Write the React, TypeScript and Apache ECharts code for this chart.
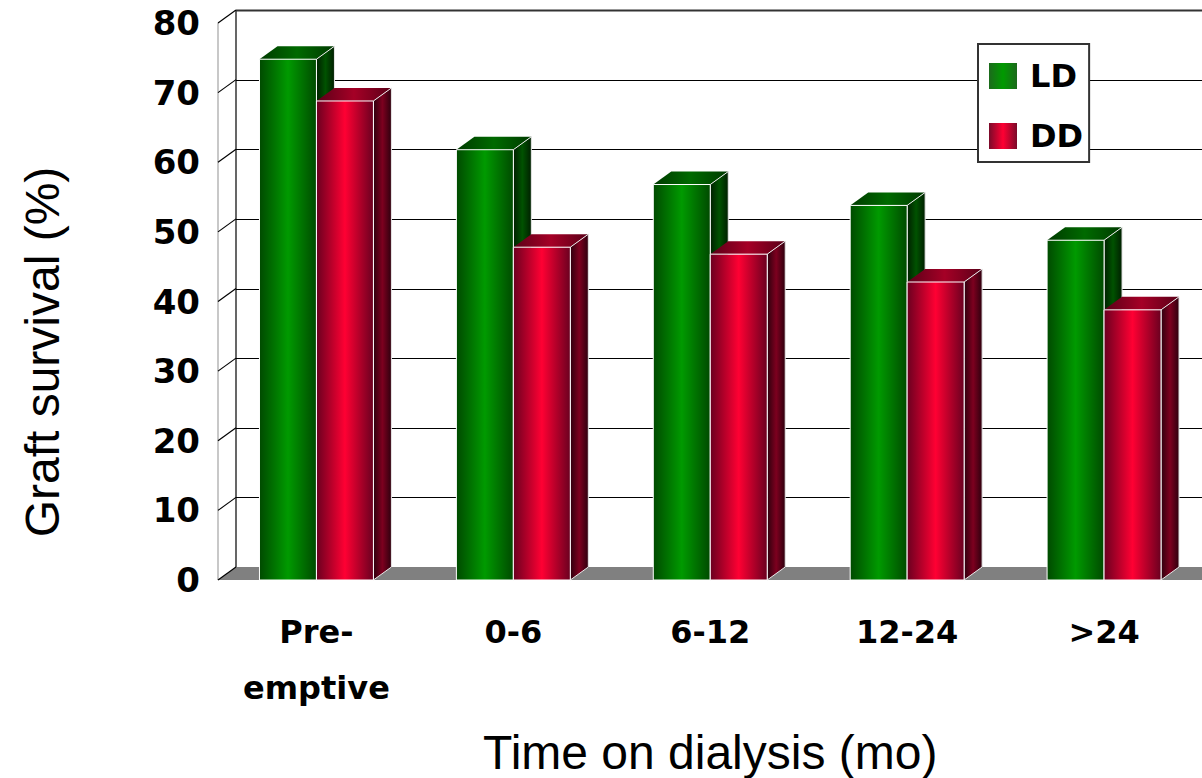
import React, { useEffect, useRef } from "react";
import * as echarts from "echarts";

const categories = ["Pre-\nemptive", "0-6", "6-12", "12-24", ">24"];
const ldValues = [74.8, 61.8, 56.8, 53.8, 48.8];
const ddValues = [68.8, 47.8, 46.8, 42.8, 38.8];
const yTicks = [0, 10, 20, 30, 40, 50, 60, 70, 80];

const DEPTH_X = 18;
const DEPTH_Y = 13;
const BAR_RATIO = 57 / 197;
const BOLD_FONT = "'DejaVu Sans'";

const hGrad = (edge: string, mid: string) =>
  new echarts.graphic.LinearGradient(0, 0, 1, 0, [
    { offset: 0, color: edge },
    { offset: 0.5, color: mid },
    { offset: 1, color: edge },
  ]);

const palettes = {
  LD: {
    front: () => hGrad("#004a00", "#009a00"),
    top: () => hGrad("#003a00", "#006a00"),
    side: () => hGrad("#001f00", "#005200"),
  },
  DD: {
    front: () => hGrad("#6a0020", "#ff0033"),
    top: () => hGrad("#5a0018", "#a50026"),
    side: () => hGrad("#2e000e", "#7d001f"),
  },
};

// One 3D column: front face, lid and right-hand side, placed through the axis scales.
const barRenderer = (key: "LD" | "DD", side: -1 | 1) => (params: any, api: any) => {
  const band = api.size([1, 0])[0];
  const w = band * BAR_RATIO;
  const [cx, yTop] = api.coord([api.value(0), api.value(1)]);
  const [, yBase] = api.coord([api.value(0), 0]);
  const x0 = side < 0 ? cx - w : cx;
  const x1 = x0 + w;
  const p = palettes[key];
  return {
    type: "group",
    children: [
      {
        type: "polygon",
        shape: {
          points: [
            [x0, yTop],
            [x0 + DEPTH_X, yTop - DEPTH_Y],
            [x1 + DEPTH_X, yTop - DEPTH_Y],
            [x1, yTop],
          ],
        },
        style: { fill: p.top() },
      },
      {
        type: "polygon",
        shape: {
          points: [
            [x1, yTop],
            [x1 + DEPTH_X, yTop - DEPTH_Y],
            [x1 + DEPTH_X, yBase - DEPTH_Y],
            [x1, yBase],
          ],
        },
        style: { fill: p.side(), stroke: "#e8e8e8", lineWidth: 1 },
      },
      {
        type: "rect",
        shape: { x: x0, y: yTop, width: w, height: yBase - yTop },
        style: { fill: p.front(), stroke: "#ffffff", lineWidth: 1 },
      },
    ],
  };
};

// Back wall grid lines, the slanted side-wall lines and the grey floor, one element per tick.
const wallRenderer = (params: any, api: any) => {
  const tick = api.value(1);
  const { x, width } = params.coordSys;
  const y = api.coord([0, tick])[1];
  const bx = x + DEPTH_X;
  const by = y - DEPTH_Y;
  const right = x + width + DEPTH_X;
  const children: any[] = [];
  if (tick === 0) {
    children.push({
      type: "polygon",
      shape: { points: [[x, y], [bx, by], [right, by], [right, y]] },
      style: { fill: "#808080" },
    });
    const top = api.coord([0, 80])[1];
    children.push({
      type: "line",
      shape: { x1: x, y1: y, x2: x, y2: top },
      style: { stroke: "#c8c8c8", lineWidth: 2 },
    });
    children.push({
      type: "line",
      shape: { x1: bx, y1: by, x2: bx, y2: top - DEPTH_Y },
      style: { stroke: "#000000", lineWidth: 1.2 },
    });
  } else {
    const lineY = Math.round(by) + 0.5;
    children.push({
      type: "line",
      shape: { x1: bx, y1: lineY, x2: right, y2: lineY },
      style: { stroke: tick === 80 ? "#333333" : "#000000", lineWidth: tick === 80 ? 2 : 1.2 },
    });
  }
  children.push({
    type: "line",
    shape: { x1: x, y1: y, x2: bx, y2: by },
    style: { stroke: "#000000", lineWidth: 1.2 },
  });
  return { type: "group", children };
};

export default function App() {
  const ref = useRef<HTMLDivElement>(null);
  useEffect(() => {
    document.body.style.margin = "0";
    document.body.style.overflow = "hidden";
    const chart = echarts.init(ref.current!, undefined, { renderer: "svg" });
    chart.setOption({
      animation: false,
      backgroundColor: "#ffffff",
      grid: {
        left: 218,
        top: 23,
        width: 984.5,
        height: 557,
        containLabel: false,
        outerBoundsMode: "none",
      },
      xAxis: {
        type: "category",
        data: categories,
        axisLine: { show: false },
        axisTick: { show: false },
        axisLabel: {
          interval: 0,
          margin: 24,
          fontFamily: BOLD_FONT,
          fontWeight: "bold",
          fontSize: 32,
          lineHeight: 56,
          color: "#000000",
        },
        name: "Time on dialysis (mo)",
        nameLocation: "middle",
        nameGap: 148,
        nameTextStyle: {
          fontFamily: "'Liberation Sans'",
          fontSize: 48,
          color: "#000000",
        },
      },
      yAxis: {
        type: "value",
        min: 0,
        max: 80,
        interval: 10,
        axisLine: { show: false },
        axisTick: { show: false },
        splitLine: { show: false },
        axisLabel: {
          margin: 18,
          fontFamily: BOLD_FONT,
          fontWeight: "bold",
          fontSize: 34,
          color: "#000000",
        },
      },
      legend: {
        data: ["LD", "DD"],
        icon: "rect",
        orient: "vertical",
        left: 978,
        top: 44,
        padding: [16, 6, 10, 11],
        itemWidth: 28,
        itemHeight: 26,
        itemGap: 28,
        backgroundColor: "#ffffff",
        borderColor: "#333333",
        borderWidth: 2,
        selectedMode: false,
        textStyle: {
          fontFamily: BOLD_FONT,
          fontWeight: "bold",
          fontSize: 32,
          color: "#000000",
          padding: [13, 0, 0, 8],
        },
      },
      graphic: [
        {
          type: "text",
          x: 42,
          y: 352,
          rotation: Math.PI / 2,
          style: {
            text: "Graft survival (%)",
            fontFamily: "'Liberation Sans'",
            fontSize: 48,
            fill: "#000000",
            textAlign: "center",
            textVerticalAlign: "middle",
          },
        },
      ],
      series: [
        {
          type: "custom",
          name: "walls",
          z: 1,
          silent: true,
          data: yTicks.map((t) => [0, t]),
          renderItem: wallRenderer,
        },
        {
          type: "custom",
          name: "LD",
          z: 2,
          itemStyle: { color: hGrad("#1c6a1c", "#009a00") },
          data: ldValues.map((v, i) => [i, v]),
          renderItem: barRenderer("LD", -1),
        },
        {
          type: "custom",
          name: "DD",
          z: 3,
          itemStyle: { color: hGrad("#7a0a2a", "#ff0033") },
          data: ddValues.map((v, i) => [i, v]),
          renderItem: barRenderer("DD", 1),
        },
      ],
    });
    return () => chart.dispose();
  }, []);
  return <div ref={ref} style={{ width: 1202, height: 778 }} />;
}
